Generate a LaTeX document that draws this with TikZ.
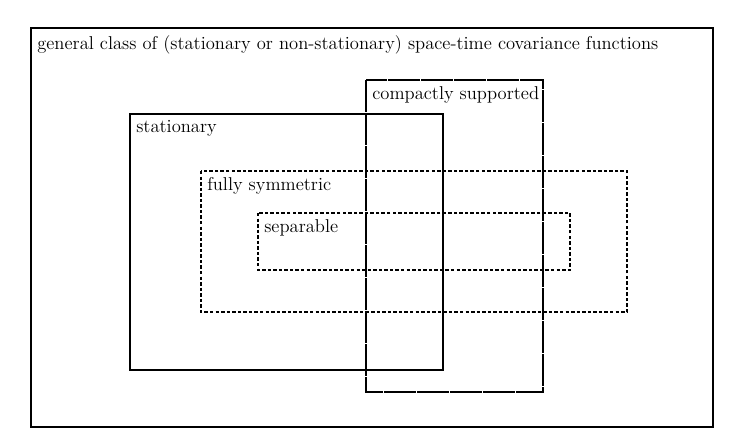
\documentclass[tikz,border=0pt]{standalone}
\begin{document}
\begin{tikzpicture}[x=0.63pt,y=-0.63pt,
  boxline/.style={line width=1.4pt},
  outerline/.style={line width=1.8pt},
  dashline/.style={line width=1.4pt, dash pattern=on 2.2pt off 1.3pt},
  longdash/.style={line width=1.4pt, dash pattern=on 20pt off 0.8pt},
  lab/.style={anchor=north west, inner sep=0pt, font=\fontsize{11.7}{13}\selectfont}]
\useasboundingbox (0,0) rectangle (745,447);
\draw[outerline] (31,28) rectangle (713,427);
\draw[boxline] (130,114) rectangle (443,370);
\draw[longdash] (366,80) rectangle (543,392);
\draw[dashline] (201,171) rectangle (627,312);
\draw[dashline] (258,213) rectangle (570,270);
\node[lab] (g) at (37,35) {general class of (stationary or non-stationary) space-time covariance functions};
\node[lab] (c) at (372,86) {compactly supported};
\node[lab] (s) at (136,120) {stationary};
\node[lab] (f) at (207,177) {fully symmetric};
\node[lab] (p) at (264,219) {separable};
\end{tikzpicture}
\end{document}
